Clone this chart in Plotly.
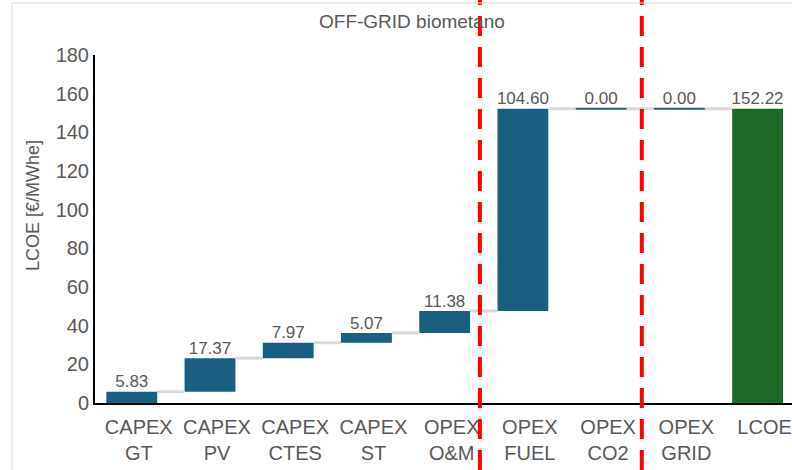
import plotly.graph_objects as go

categories = ["CAPEX<br>GT", "CAPEX<br>PV", "CAPEX<br>CTES", "CAPEX<br>ST", "OPEX<br>O&M",
              "OPEX<br>FUEL", "OPEX<br>CO2", "OPEX<br>GRID", "LCOE"]
values = [5.83, 17.37, 7.97, 5.07, 11.38, 104.60, 0.00, 0.00, 152.22]
is_total = [False] * 8 + [True]
y_ticks = [0, 20, 40, 60, 80, 100, 120, 140, 160, 180]
separators = [4.45, 6.52]  # category positions of red dashed dividers

BLUE = "#185f80"
GREEN = "#1d6b27"
GREY_TXT = "#595959"
CONN = "#d9d9d9"
FONT = "Liberation Sans, Arial, sans-serif"

W, H = 792, 470
ML, MR, MT, MB = 95, 0, 55, 67
xr = [-0.47, 8.44]
BW = 0.65

# waterfall geometry from data
bases, tops = [], []
run = 0.0
for v, t in zip(values, is_total):
    if t:
        bases.append(0.0)
        tops.append(v)
    else:
        bases.append(run)
        run += v
        tops.append(run)

xs = list(range(len(categories)))
colors = [GREEN if t else BLUE for t in is_total]

fig = go.Figure()
# connectors
cx, cy = [], []
for i in range(len(xs) - 1):
    lvl = tops[i]
    cx += [xs[i] + BW / 2, xs[i + 1] - BW / 2, None]
    cy += [lvl, lvl, None]
fig.add_trace(go.Scatter(x=cx, y=cy, mode="lines", line=dict(color=CONN, width=3),
                         hoverinfo="skip"))
# bars
fig.add_trace(go.Bar(x=xs, y=[tp - b for tp, b in zip(tops, bases)], base=bases,
                     width=BW, marker=dict(color=colors, line=dict(width=0))))
# zero-height bars drawn as thin lines
zx, zy = [], []
for i, v in enumerate(values):
    if v == 0:
        zx += [xs[i] - BW / 2, xs[i] + BW / 2, None]
        zy += [tops[i], tops[i], None]
fig.add_trace(go.Scatter(x=zx, y=zy, mode="lines", line=dict(color=BLUE, width=2),
                         hoverinfo="skip"))
# value labels
fig.add_trace(go.Scatter(x=xs, y=tops, mode="text", text=[f"{v:.2f}" for v in values],
                         textposition="top center", cliponaxis=False,
                         textfont=dict(size=17, color=GREY_TXT, family=FONT)))

pw = W - ML - MR
ph = H - MT - MB
def to_paper(xv):
    return (xv - xr[0]) / (xr[1] - xr[0])

shapes = []
for s in separators:
    xp = to_paper(s)
    shapes.append(dict(type="line", xref="paper", yref="paper", x0=xp, x1=xp,
                       y0=-MB / ph, y1=1 + MT / ph,
                       line=dict(color="#ff0000", width=4, dash="20px,11px"), layer="above"))
bx = (12 - ML) / pw
by = 1 + (MT - 3) / ph
shapes.append(dict(type="line", xref="paper", yref="paper", x0=bx, x1=1.0, y0=by, y1=by,
                   line=dict(color=CONN, width=1)))
shapes.append(dict(type="line", xref="paper", yref="paper", x0=bx, x1=bx, y0=by, y1=-MB / ph,
                   line=dict(color=CONN, width=1)))

fig.update_layout(
    width=W, height=H,
    margin=dict(l=ML, r=MR, t=MT, b=MB, autoexpand=False),
    paper_bgcolor="white", plot_bgcolor="white",
    showlegend=False,
    font=dict(family=FONT, color=GREY_TXT),
    shapes=shapes,
    xaxis=dict(range=xr, tickvals=xs, ticktext=categories, showgrid=False, zeroline=False,
               showline=True, linecolor="black", linewidth=2, ticklabelstandoff=5,
               ticklabelshift=7,
               ticks="", tickfont=dict(size=20, color=GREY_TXT)),
    yaxis=dict(range=[0, 180], tickvals=y_ticks, showgrid=False, zeroline=False,
               showline=True, linecolor="black", linewidth=2, ticks="",
               tickfont=dict(size=20, color=GREY_TXT)),
    annotations=[
        dict(text="OFF-GRID biometano", xref="paper", yref="paper",
             x=(412 - ML) / pw, y=1 + (MT - 22) / ph, showarrow=False,
             font=dict(size=19, color=GREY_TXT, family=FONT), xanchor="center", yanchor="middle"),
        dict(text="LCOE [€/MWhe]", xref="paper", yref="paper",
             x=(33 - ML) / pw, y=(H - MB - 205) / ph, showarrow=False, textangle=-90,
             font=dict(size=18, color=GREY_TXT, family=FONT), xanchor="center", yanchor="middle"),
    ],
)

fig.write_html("out.html", config={"displayModeBar": False},
               post_script="document.body.style.margin='0';")
